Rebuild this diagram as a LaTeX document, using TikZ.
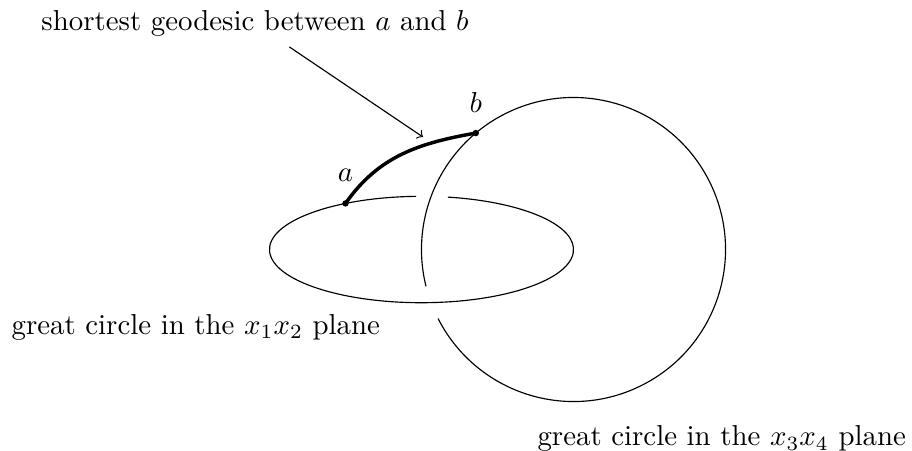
\documentclass[tikz,border=0pt]{standalone}
\usetikzlibrary{arrows.meta,positioning,calc}

\begin{document}
\begin{tikzpicture}[scale=0.926,>=to]
  \useasboundingbox (-5.546,-2.638) rectangle (6.454,3.283);
  % the two great circles, each broken where the other passes in front
  \draw (0,0) ++(92:2 and 0.7)
    arc[start angle=92,end angle=440,x radius=2,y radius=0.7];
  \draw (2,0) ++(207:2) arc[start angle=207,end angle=554,radius=2];
  \coordinate (a) at (120:2 and 0.7);
  \coordinate (b) at ($(2,0)+(130:2)$);
  \draw[very thick] (a) to[out=55,in=190] (b);
  \fill (a) circle (1.2pt) node[above=4pt] (alabel) {$a$};
  \fill (b) circle (1.2pt) node[above=3.5pt] (blabel) {$b$};
  \node (geolabel) at (-2.19,2.97) {shortest geodesic between $a$ and $b$};
  \coordinate (tip) at (0.02,1.48);
  \draw[->] (geolabel) -- (tip);
  \node (plane12) at (-2.97,-1.02) {great circle in the $x_1x_2$ plane};
  \node (plane34) at (3.95,-2.49) {great circle in the $x_3x_4$ plane};
\end{tikzpicture}
\end{document}
